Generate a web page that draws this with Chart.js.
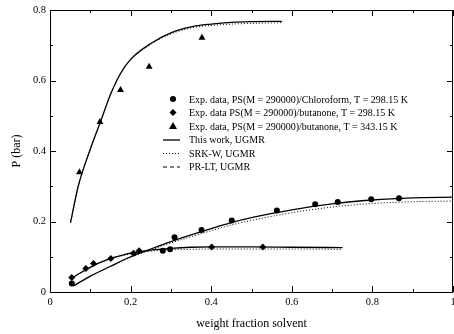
<!DOCTYPE html>
<html>
<head>
<meta charset="utf-8">
<script src="https://cdn.jsdelivr.net/npm/chart.js@4/dist/chart.umd.min.js"></script>
<style>
  html, body { margin: 0; padding: 0; background: #fff; }
  #wrap { width: 454px; height: 334px; position: relative; }
</style>
</head>
<body>
<div id="wrap"><canvas id="chart-p"></canvas></div>
<script>
// Experimental points
const chloroX = [0.054, 0.28, 0.298, 0.309, 0.376, 0.451, 0.563, 0.658, 0.714, 0.797, 0.866];
const chloroY = [0.024, 0.117, 0.121, 0.155, 0.176, 0.203, 0.231, 0.249, 0.255, 0.263, 0.266];
const butX = [0.054, 0.089, 0.108, 0.151, 0.207, 0.221, 0.401, 0.528];
const butY = [0.041, 0.067, 0.081, 0.095, 0.110, 0.117, 0.128, 0.128];
const hotX = [0.073, 0.124, 0.175, 0.246, 0.377];
const hotY = [0.34, 0.482, 0.573, 0.639, 0.721];

// Model curves
const chloroCurveX = [0.058, 0.1, 0.15, 0.2, 0.25, 0.3, 0.35, 0.4, 0.45, 0.5, 0.6, 0.7, 0.8, 0.9, 1.0];
const chloroWorkY = [0.017, 0.045, 0.073, 0.1, 0.122, 0.143, 0.162, 0.18, 0.197, 0.211, 0.233, 0.25, 0.261, 0.267, 0.269];
const chloroSrkY = [0.017, 0.045, 0.072, 0.098, 0.119, 0.139, 0.157, 0.174, 0.19, 0.203, 0.225, 0.241, 0.251, 0.256, 0.258];

const butCurveX = [0.055, 0.075, 0.1, 0.125, 0.15, 0.175, 0.2, 0.25, 0.3, 0.35, 0.4, 0.5, 0.6, 0.726];
const butWorkY = [0.04, 0.054, 0.07, 0.084, 0.095, 0.103, 0.11, 0.119, 0.124, 0.127, 0.128, 0.128, 0.127, 0.126];
const butSrkY = [0.04, 0.054, 0.07, 0.084, 0.094, 0.102, 0.108, 0.116, 0.12, 0.121, 0.122, 0.122, 0.122, 0.121];

const hotCurveX = [0.051, 0.07, 0.1, 0.125, 0.15, 0.175, 0.2, 0.25, 0.3, 0.35, 0.4, 0.45, 0.5, 0.576];
const hotWorkY = [0.197, 0.3, 0.405, 0.482, 0.56, 0.62, 0.66, 0.705, 0.735, 0.752, 0.76, 0.765, 0.767, 0.768];
const hotSrkY = [0.197, 0.3, 0.405, 0.482, 0.56, 0.62, 0.659, 0.703, 0.732, 0.749, 0.756, 0.76, 0.762, 0.764];

// Axis ticks
const xMajor = [0, 0.2, 0.4, 0.6, 0.8, 1];
const xMinor = [0.1, 0.3, 0.5, 0.7, 0.9];
const yMajor = [0, 0.2, 0.4, 0.6, 0.8];
const yMinor = [0.1, 0.3, 0.5, 0.7];

const legendItems = [
  { text: 'Exp. data, PS(M = 290000)/Chloroform, T = 298.15 K', marker: 'circle' },
  { text: 'Exp. data PS(M = 290000)/butanone, T = 298.15 K', marker: 'diamond' },
  { text: 'Exp. data, PS(M = 290000)/butanone, T = 343.15 K', marker: 'triangle' },
  { text: 'This work, UGMR', dash: [] },
  { text: 'SRK-W, UGMR', dash: [1, 2] },
  { text: 'PR-LT, UGMR', dash: [4, 3] }
];

const SERIF = "'Liberation Serif', 'Times New Roman', serif";

function pts(xs, ys) {
  return xs.map((x, i) => ({ x: x, y: ys[i] }));
}

function fmt(v) {
  return String(+Number(v).toFixed(1));
}

function curve(xs, ys, dash) {
  return {
    data: pts(xs, ys),
    showLine: true,
    borderColor: '#000',
    borderWidth: dash.length ? 1 : 1.3,
    borderDash: dash,
    pointRadius: 0,
    cubicInterpolationMode: 'monotone',
    fill: false
  };
}

function marks(xs, ys, style, r) {
  return {
    data: pts(xs, ys),
    showLine: false,
    pointStyle: style,
    pointRadius: r,
    backgroundColor: '#000',
    borderColor: '#000',
    borderWidth: 0
  };
}

function drawMarker(ctx, kind, x, y) {
  ctx.beginPath();
  if (kind === 'circle') {
    ctx.arc(x, y, 3, 0, Math.PI * 2);
  } else if (kind === 'diamond') {
    ctx.moveTo(x, y - 3.5); ctx.lineTo(x + 3.5, y); ctx.lineTo(x, y + 3.5); ctx.lineTo(x - 3.5, y);
    ctx.closePath();
  } else {
    ctx.moveTo(x, y - 4); ctx.lineTo(x + 4, y + 3); ctx.lineTo(x - 4, y + 3);
    ctx.closePath();
  }
  ctx.fill();
}

// frame, inward ticks on all sides, legend
const framePlugin = {
  id: 'frame',
  afterDraw(chart) {
    const ctx = chart.ctx;
    const a = chart.chartArea;
    const xs = chart.scales.x, ys = chart.scales.y;
    ctx.save();
    ctx.strokeStyle = '#000';
    ctx.lineWidth = 1;
    ctx.strokeRect(a.left + 0.5, a.top + 0.5, a.right - a.left - 1, a.bottom - a.top);

    ctx.beginPath();
    const tickX = (vals, len) => vals.forEach(v => {
      const px = Math.round(xs.getPixelForValue(v)) + 0.5;
      ctx.moveTo(px, a.bottom); ctx.lineTo(px, a.bottom - len);
      ctx.moveTo(px, a.top); ctx.lineTo(px, a.top + len);
    });
    const tickY = (vals, len) => vals.forEach(v => {
      const py = Math.round(ys.getPixelForValue(v)) + 0.5;
      ctx.moveTo(a.left, py); ctx.lineTo(a.left + len, py);
      ctx.moveTo(a.right, py); ctx.lineTo(a.right - len, py);
    });
    tickX(xMajor, 6); tickX(xMinor, 3);
    tickY(yMajor, 6); tickY(yMinor, 3);
    ctx.stroke();

    // legend
    ctx.fillStyle = '#000';
    ctx.font = '10px ' + SERIF;
    ctx.textBaseline = 'middle';
    legendItems.forEach((it, i) => {
      const y = 99 + i * 13.5;
      if (it.marker) {
        drawMarker(ctx, it.marker, 173, y);
      } else {
        ctx.beginPath();
        ctx.setLineDash(it.dash);
        ctx.lineWidth = it.dash.length ? 1 : 1.3;
        ctx.moveTo(163, y + 0.5); ctx.lineTo(180, y + 0.5);
        ctx.stroke();
        ctx.setLineDash([]);
      }
      ctx.fillText(it.text, 189, y + 1);
    });
    ctx.restore();
  }
};

const ctx = document.getElementById('chart-p').getContext('2d');
new Chart(ctx, {
  type: 'scatter',
  data: {
    datasets: [
      curve(chloroCurveX, chloroSrkY, [1, 2]),
      curve(butCurveX, butSrkY, [1, 2]),
      curve(hotCurveX, hotSrkY, [1, 2]),
      curve(chloroCurveX, chloroWorkY, []),
      curve(butCurveX, butWorkY, []),
      curve(hotCurveX, hotWorkY, []),
      marks(chloroX, chloroY, 'circle', 3),
      marks(butX, butY, 'rectRot', 3.5),
      marks(hotX, hotY, 'triangle', 4)
    ]
  },
  options: {
    responsive: true,
    maintainAspectRatio: false,
    animation: false,
    layout: { autoPadding: false, padding: { top: 10, right: 1, left: 0, bottom: 0 } },
    plugins: {
      legend: { display: false },
      tooltip: { enabled: false }
    },
    scales: {
      x: {
        type: 'linear',
        min: 0, max: 1,
        grid: { display: false, drawTicks: false },
        border: { display: false },
        ticks: {
          stepSize: 0.2,
          padding: 4,
          color: '#000',
          font: { family: SERIF, size: 10.5 },
          maxRotation: 0,
          callback: fmt
        },
        title: {
          display: true,
          text: 'weight fraction solvent',
          color: '#000',
          font: { family: SERIF, size: 12 },
          padding: { top: 0, bottom: 3 }
        },
        afterFit(scale) {
          scale.height = 42;
          scale.paddingLeft = 0;
          scale.paddingRight = 0;
        }
      },
      y: {
        type: 'linear',
        min: 0, max: 0.8,
        grid: { display: false, drawTicks: false },
        border: { display: false },
        ticks: {
          stepSize: 0.2,
          padding: 4,
          color: '#000',
          font: { family: SERIF, size: 10.5 },
          callback: fmt
        },
        title: {
          display: true,
          text: 'P (bar)',
          color: '#000',
          font: { family: SERIF, size: 12 },
          padding: { top: 10, bottom: 0 }
        },
        afterFit(scale) {
          scale.width = 50;
          scale.paddingTop = 0;
          scale.paddingBottom = 0;
        }
      }
    }
  },
  plugins: [framePlugin]
});
</script>
</body>
</html>
